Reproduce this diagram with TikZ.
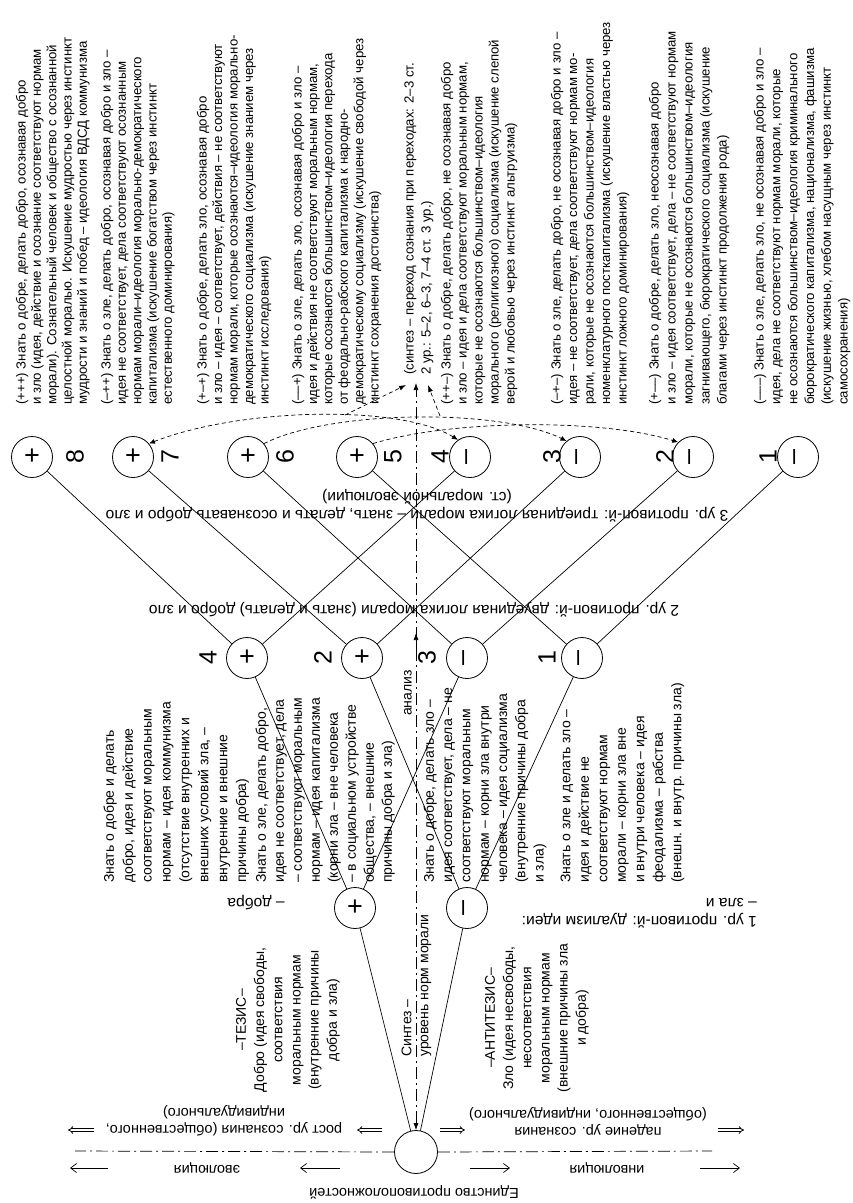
\documentclass[tikz,border=0pt]{standalone}
\usepackage{fontspec}
\setmainfont{Liberation Sans}
\usepackage{graphicx}
\usetikzlibrary{arrows.meta}
\begin{document}
\begin{tikzpicture}[x=1pt,y=-1pt,
  every node/.style={inner sep=0pt},
  circ/.style={circle,draw,line width=0.8pt,minimum size=41pt,fill=white,font=\fontsize{27}{27}\selectfont},
  num/.style={rotate=90,font=\fontsize{25}{25}\selectfont},
  conn/.style={line width=0.7pt},
  blk/.style={rotate=90,anchor=north west,align=left,font=\fontsize{14}{#1}\selectfont},
  tblk/.style={rotate=90,anchor=north west,align=left,font=\fontsize{13.2}{#1}\selectfont},
  cblk/.style={rotate=90,align=center,font=\fontsize{14}{#1}\selectfont},
  flip/.style={rotate=180,align=center,font=\fontsize{14.5}{17}\selectfont},
  lvl/.style={rotate=180,align=center,font=\fontsize{15.6}{18}\selectfont},
  axis/.style={line width=0.7pt,dash pattern=on 12pt off 4pt on 2pt off 4pt},
  dsh/.style={line width=0.7pt,dash pattern=on 4pt off 3pt},
  tip/.style={-{Latex[length=7pt,width=5pt]}},
  evo/.style={line width=0.7pt,-{Straight Barb[length=6pt,width=9pt]}},
  dbl/.style={double,double distance=1.8pt,line width=0.8pt,-{Implies}}
]
\useasboundingbox (0,0) rectangle (853,1203);

% ---------- top row (level 3)
\node[circ] (n8) at (32,457) {+};
\node[circ] (n7) at (133,457) {+};
\node[circ] (n6) at (248,457) {+};
\node[circ] (n5) at (357,457) {+};
\node[circ] (n4) at (470,457) {\rotatebox{90}{–}};
\node[circ] (n3) at (580,457) {\rotatebox{90}{–}};
\node[circ] (n2) at (693,457) {\rotatebox{90}{–}};
\node[circ] (n1) at (798,457) {\rotatebox{90}{–}};
\node[num] (k8) at (75,457) {8};
\node[num] (k7) at (170,457) {7};
\node[num] (k6) at (285,457) {6};
\node[num] (k5) at (393,457) {5};
\node[num] (k4) at (440,457) {4};
\node[num] (k3) at (552,457) {3};
\node[num] (k2) at (665,457) {2};
\node[num] (k1) at (768,457) {1};

% ---------- level 2
\node[circ] (m4) at (247,658) {+};
\node[circ] (m2) at (362,658) {+};
\node[circ] (m3) at (467,658) {\rotatebox{90}{–}};
\node[circ] (m1) at (582,658) {\rotatebox{90}{–}};
\node[num] (j4) at (208,658) {4};
\node[num] (j2) at (323,658) {2};
\node[num] (j3) at (427,658) {3};
\node[num] (j1) at (547,658) {1};

% ---------- level 1 and unity
\node[circ] (lp) at (355,908) {+};
\node[circ] (lm) at (467,908) {\rotatebox{90}{–}};
\node[circ,minimum size=43pt] (u) at (416,1152) {};

% ---------- connectors
\draw[conn] (u) -- (lp);
\draw[conn] (u) -- (lm);
\draw[conn] (lp) -- (m4);
\draw[conn] (lp) -- (m3);
\draw[conn] (lm) -- (m2);
\draw[conn] (lm) -- (m1);
\draw[conn] (m4) -- (n8);
\draw[conn] (m4) -- (n4);
\draw[conn] (m2) -- (n7);
\draw[conn] (m2) -- (n3);
\draw[conn] (m3) -- (n6);
\draw[conn] (m3) -- (n2);
\draw[conn] (m1) -- (n5);
\draw[conn] (m1) -- (n1);

% ---------- axes
\coordinate (axTop) at (416,383);
\draw[axis,{Latex[length=7pt,width=5pt]}-{Latex[length=7pt,width=5pt]}] (u) -- (axTop);
\coordinate (anBase) at (416,650);
\coordinate (anTip) at (416,633);
\draw[conn,tip] (anBase) -- (anTip);
\coordinate (hL) at (75,1151);
\coordinate (hR) at (712,1151);
\draw[axis] (u.west) -- (hL);
\draw[axis] (u.east) -- (hR);

% ---------- dashed transitions at level 3
\draw[dsh,{Latex[length=6pt,width=5pt]}-{Latex[length=6pt,width=5pt]}] (n7.40) .. controls (240,408) and (400,404) .. (n4.125);
\draw[dsh,-{Latex[length=6pt,width=5pt]}] (n6.40) .. controls (330,410) and (500,408) .. (n3.130);
\draw[dsh,-{Latex[length=6pt,width=5pt]}] (n5.40) .. controls (450,420) and (600,418) .. (n2.135);
\coordinate (sA) at (345,415);
\coordinate (sAt) at (406,385);
\coordinate (sB) at (440,416);
\coordinate (sBt) at (428,385);
\draw[dsh,tip] (sA) -- (sAt);
\draw[dsh,tip] (sB) -- (sBt);

% ---------- evolution arrows
\coordinate (e1s) at (340,1168); \coordinate (e1e) at (300,1168);
\coordinate (e2s) at (108,1168); \coordinate (e2e) at (70,1168);
\coordinate (i1s) at (470,1168); \coordinate (i1e) at (510,1168);
\coordinate (i2s) at (700,1168); \coordinate (i2e) at (740,1168);
\draw[evo] (e1s) -- (e1e);
\draw[evo] (e2s) -- (e2e);
\draw[evo] (i1s) -- (i1e);
\draw[evo] (i2s) -- (i2e);
\coordinate (r1s) at (382,1130); \coordinate (r1e) at (357,1130);
\coordinate (r2s) at (94,1130); \coordinate (r2e) at (68,1130);
\coordinate (p1s) at (440,1130); \coordinate (p1e) at (465,1130);
\coordinate (p2s) at (718,1130); \coordinate (p2e) at (744,1130);
\draw[dbl] (r1s) -- (r1e);
\draw[dbl] (r2s) -- (r2e);
\draw[dbl] (p1s) -- (p1e);
\draw[dbl] (p2s) -- (p2e);

% ---------- upside-down labels
\node[flip] (evot) at (207,1168) {эволюция};
\node[flip] (invt) at (607,1168) {инволюция};
\node[flip] (rost) at (224,1121) {рост ур. сознания (общественного,\\индивидуального)};
\node[flip] (pad) at (588,1121) {падение ур. сознания\\(общественного, индивидуального)};
\node[flip] (edin) at (414,1192) {Единство противоположностей};
\node[lvl] (L3) at (417,506) {3 ур. противоп-й: триединая логика морали – знать, делать и осознавать добро и зло\\(ст. моральной эволюции)};
\node[lvl] (L2) at (414,610) {2 ур. противоп-й: двуединая логика морали (знать и делать) добро и зло};
\node[lvl,anchor=north west,align=left] (L1) at (757,928) {1 ур. противоп-й: дуализм идеи:\\– зла и};
\node[lvl] (L1b) at (256,903) {– добра};

% ---------- rotated texts near the base
\node[cblk=18.2] (tez) at (288,1020) {–ТЕЗИС–\\Добро (идея свободы,\\соответствия\\моральным нормам\\(внутренние причины\\добра и зла)};
\node[cblk=18.2] (atez) at (537,1018) {–АНТИТЕЗИС–\\Зло (идея несвободы,\\несоответствия\\моральным нормам\\(внешние причины зла\\и добра)};
\node[blk=17] (sint) at (401.4,1057) {Синтез –\\уровень норм морали};
\node[rotate=90,font=\fontsize{14}{14}\selectfont] (anal) at (408,693) {анализ};

% ---------- level-2 descriptions
\node[blk=18.9] (dA) at (103.4,883) {Знать о добре и делать\\добро, идея и действие\\соответствуют моральным\\нормам – идея коммунизма\\(отсутствие внутренних и\\внешних условий зла, –\\внутренние и внешние\\причины добра)};
\node[blk=18] (dB) at (255.4,883) {Знать о зле, делать добро,\\идея не соответствует, дела\\– соответствуют моральным\\нормам – идея капитализма\\(корни зла – вне человека\\– в социальном устройстве\\общества, – внешние\\причины добра и зла)};
\node[blk=18.3] (dC) at (423.4,883) {Знать о добре, делать зло –\\идея соответствует, дела – не\\соответствуют моральным\\нормам – корни зла внутри\\человека – идея социализма\\(внутренние причины добра\\и зла)};
\node[blk=18.5] (dD) at (560.4,883) {Знать о зле и делать зло –\\идея и действие не\\соответствуют нормам\\морали – корни зла вне\\и внутри человека – идея\\феодализма – рабства\\(внешн. и внутр. причины зла)};

% ---------- top descriptions
\node[tblk=15.3] (b1) at (15.8,405) {(+++) Знать о добре, делать добро, осознавая добро\\и зло (идея, действие и осознание соответствуют нормам\\морали). Сознательный человек и общество с осознанной\\целостной моралью. Искушение мудростью через инстинкт\\мудрости и знаний и побед – идеология ВДСД коммунизма};
\node[tblk=15.3] (b2) at (100.8,405) {(–++) Знать о зле, делать добро, осознавая добро и зло –\\идея не соответствует, дела соответствуют осознанным\\нормам морали–идеология морально-демократического\\капитализма (искушение богатством через инстинкт\\естественного доминирования)};
\node[tblk=15.5] (b3) at (196.8,405) {(+–+) Знать о добре, делать зло, осознавая добро\\и зло – идея – соответствует, действия – не соответствуют\\нормам морали, которые осознаются–идеология морально-\\демократического социализма (искушение знанием через\\инстинкт исследования)};
\node[tblk=15.4] (b4) at (291.8,405) {(––+) Знать о зле, делать зло, осознавая добро и зло –\\идея и действия не соответствуют моральным нормам,\\которые осознаются большинством–идеология перехода\\от феодально-рабского капитализма к народно-\\демократическому социализму (искушение свободой через\\инстинкт сохранения достоинства)};
\node[tblk=17] (syn) at (403.8,375) {(синтез – переход сознания при переходах: 2–3 ст.\\2 ур.: 5–2, 6–3, 7–4 ст. 3 ур.)};
\node[tblk=16] (b5) at (440.8,405) {(++–) Знать о добре, делать добро, не осознавая добро\\и зло – идея и дела соответствуют моральным нормам,\\которые не осознаются большинством–идеология\\морального (религиозного) социализма (искушение слепой\\верой и любовью через инстинкт альтруизма)};
\node[tblk=16.5] (b6) at (550.8,405) {(–+–) Знать о зле, делать добро, не осознавая добро и зло –\\идея – не соответствует, дела соответствуют нормам мо-\\рали, которые не осознаются большинством–идеология\\номенклатурного посткапитализма (искушение властью через\\инстинкт ложного доминирования)};
\node[tblk=17] (b7) at (648.8,405) {(+––) Знать о добре, делать зло, неосознавая добро\\и зло – идея соответствует, дела – не соответствуют нормам\\морали, которые не осознаются большинством–идеология\\загнивающего, бюрократического социализма (искушение\\благами через инстинкт продолжения рода)};
\node[tblk=16.8] (b8) at (753.8,405) {(–––) Знать о зле, делать зло, не осознавая добро и зло –\\идея, дела не соответствуют нормам морали, которые\\не осознаются большинством–идеология криминального\\бюрократического капитализма, национализма, фашизма\\(искушение жизнью, хлебом насущным через инстинкт\\самосохранения)};
\end{tikzpicture}
\end{document}
